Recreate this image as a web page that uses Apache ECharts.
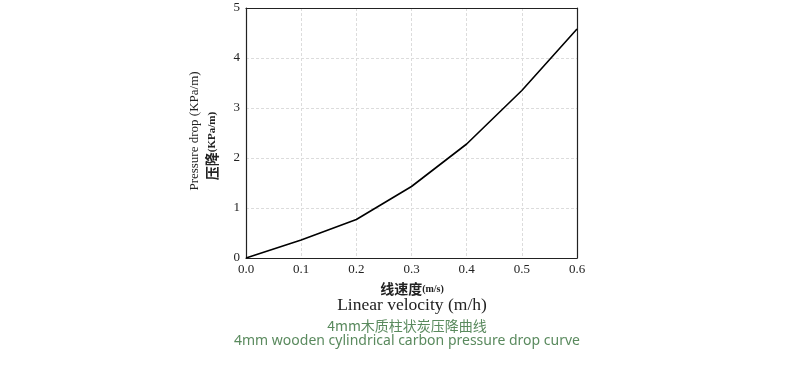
<!DOCTYPE html>
<html><head><meta charset="utf-8">
<script src="https://cdn.jsdelivr.net/npm/echarts@6/dist/echarts.min.js"></script>
<style>html,body{margin:0;padding:0;background:#fff}#c{width:793px;height:368px}</style>
</head><body><div id="c"></div>
<script>
const xValues = [0, 0.1, 0.2, 0.3, 0.4, 0.5, 0.6];
const pressureDrop = [0, 0.36, 0.77, 1.43, 2.28, 3.35, 4.58];
const seriesData = xValues.map((x, i) => [x, pressureDrop[i]]);
const serif = '"Liberation Serif", "Times New Roman", serif';
const frameLine = { show: true, onZero: false, lineStyle: { color: '#222', width: 1.2 } };
const grid = { color: '#dcdcdc', type: [3, 2], width: 1 };
const chart = echarts.init(document.getElementById('c'));
chart.setOption({
  animation: false,
  backgroundColor: '#fff',
  grid: { left: 246, right: 216, top: 8, bottom: 110 },
  xAxis: [{
    type: 'value', min: 0, max: 0.6, interval: 0.1,
    axisLine: frameLine, axisTick: { show: false },
    axisLabel: { color: '#222', fontFamily: serif, fontSize: 13, margin: 5, formatter: v => v.toFixed(1) },
    splitLine: { show: true, lineStyle: grid }
  }, {
    type: 'value', position: 'top', min: 0, max: 0.6, interval: 0.1,
    axisLine: frameLine, axisTick: { show: false }, axisLabel: { show: false }, splitLine: { show: false }
  }],
  yAxis: [{
    type: 'value', min: 0, max: 5, interval: 1,
    axisLine: frameLine, axisTick: { show: false },
    axisLabel: { color: '#222', fontFamily: serif, fontSize: 13, margin: 6 },
    splitLine: { show: true, lineStyle: grid }
  }, {
    type: 'value', position: 'right', min: 0, max: 5, interval: 1,
    axisLine: frameLine, axisTick: { show: false }, axisLabel: { show: false }, splitLine: { show: false }
  }],
  series: [{
    type: 'line', data: seriesData, symbol: 'none', xAxisIndex: 0, yAxisIndex: 0,
    lineStyle: { color: '#000', width: 1.6 }
  }],
  graphic: [
    { type: 'text', x: 195, y: 131, rotation: Math.PI / 2,
      style: { text: 'Pressure drop (KPa/m)', font: '13px ' + serif, fill: '#222', align: 'center', verticalAlign: 'middle' } },
    { type: 'text', x: 212, y: 146, rotation: Math.PI / 2,
      style: { rich: { a: { fontFamily: '"Noto Sans CJK SC", serif', fontWeight: 'bold', fontSize: 14, fill: '#222' }, b: { fontFamily: serif, fontWeight: 'bold', fontSize: 11, fill: '#222' } }, text: '{a|压降}{b|(KPa/m)}', align: 'center', verticalAlign: 'middle' } },
    { type: 'text', x: 412, y: 289,
      style: { rich: { a: { fontFamily: '"Noto Sans CJK SC", serif', fontWeight: 'bold', fontSize: 14, fill: '#222' }, b: { fontFamily: serif, fontWeight: 'bold', fontSize: 10, fill: '#222' } }, text: '{a|线速度}{b|(m/s)}', align: 'center', verticalAlign: 'middle' } },
    { type: 'text', x: 412, y: 305,
      style: { text: 'Linear velocity (m/h)', font: '17.5px ' + serif, fill: '#222', align: 'center', verticalAlign: 'middle' } },
    { type: 'text', x: 407, y: 326,
      style: { text: '4mm木质柱状炭压降曲线', font: '14px "Noto Sans CJK SC", "Noto Sans", sans-serif', fill: '#5a8a5e', align: 'center', verticalAlign: 'middle' } },
    { type: 'text', x: 407, y: 341,
      style: { text: '4mm wooden cylindrical carbon pressure drop curve', font: '14px "Noto Sans", sans-serif', fill: '#5a8a5e', align: 'center', verticalAlign: 'middle' } }
  ]
});
</script></body></html>
